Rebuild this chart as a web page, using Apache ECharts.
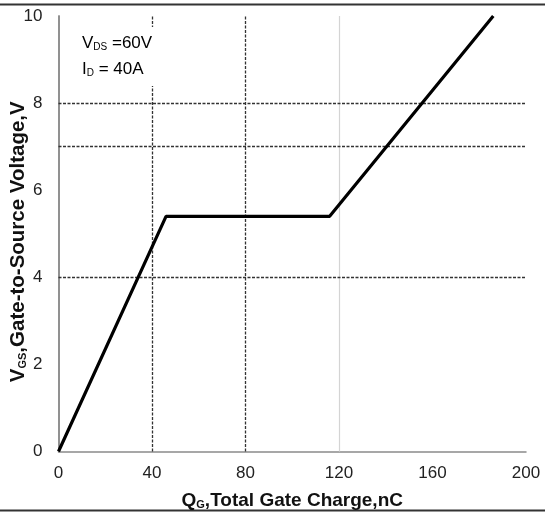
<!DOCTYPE html>
<html>
<head>
<meta charset="utf-8">
<script src="https://cdn.jsdelivr.net/npm/echarts@6/dist/echarts.min.js"></script>
<style>
  html, body { margin: 0; padding: 0; background: #fff; }
  #chart { width: 545px; height: 514px; }
</style>
</head>
<body>
<div id="chart"></div>
<script>
// gate charge curve
const qg = [0, 46, 116, 186];
const vgs = [0, 5.4, 5.4, 10];

// reference lines drawn on the datasheet plot
const darkVLines = [40, 80];
const lightVLines = [120];
const darkHLines = [4, 7, 8];

const xTicks = [0, 40, 80, 120, 160, 200];
const yTicks = [0, 2, 4, 6, 8, 10];

const font = '"Liberation Sans", Arial, sans-serif';
const chart = echarts.init(document.getElementById('chart'));

const dashed = { color: '#333', width: 1.3, type: [3, 1.5] };

function nameRich(size) {
  return {
    b: { fontSize: size, fontWeight: 'bold', color: '#111', fontFamily: font },
    s: { fontSize: 11, fontWeight: 'bold', color: '#111', fontFamily: font, padding: [9, 0, 0, 0] }
  };
}

chart.setOption({
  animation: false,
  backgroundColor: '#fff',
  textStyle: { fontFamily: font },
  grid: { left: 58.5, right: 19, top: 16, bottom: 62.5, containLabel: false, outerBoundsMode: 'none' },
  xAxis: {
    type: 'value',
    min: xTicks[0], max: xTicks[xTicks.length - 1], interval: 40,
    axisLine: { show: true, onZero: false, lineStyle: { color: '#8a8a8a', width: 1.5 } },
    axisTick: { show: false },
    splitLine: { show: false },
    axisLabel: { color: '#222', fontSize: 17, margin: 13, fontFamily: font },
    name: '{b|Q}{s|G}{b|,Total Gate Charge,nC}',
    nameLocation: 'middle',
    nameGap: 39,
    nameMoveOverlap: false,
    nameTextStyle: { rich: nameRich(19) }
  },
  yAxis: [{
    type: 'value',
    min: yTicks[0], max: yTicks[yTicks.length - 1], interval: 2,
    axisLine: { show: true, onZero: false, lineStyle: { color: '#8a8a8a', width: 1.5 } },
    axisTick: { show: false },
    splitLine: { show: false },
    axisLabel: { color: '#222', fontSize: 17, margin: 16, fontFamily: font },
    name: '{b|V}{s|GS}{b|,Gate-to-Source Voltage,V}',
    nameLocation: 'middle',
    nameGap: 30,
    nameMoveOverlap: false,
    nameTextStyle: { rich: nameRich(20.5), padding: [0, 16, 0, 0] }
  }, {
    type: 'value',
    position: 'right',
    min: 0, max: 10,
    axisLine: { show: true, lineStyle: { color: '#8a8a8a', width: 1.5 } },
    axisTick: { show: false },
    axisLabel: { show: false },
    splitLine: { show: false }
  }],
  series: [{
    type: 'line',
    data: qg.map((q, i) => [q, vgs[i]]),
    showSymbol: false,
    z: 5,
    lineStyle: { color: '#000', width: 3.2 },
    markLine: {
      silent: true,
      symbol: ['none', 'none'],
      label: { show: false },
      z: 1,
      data: [
        ...darkVLines.map(v => ({ xAxis: v, lineStyle: dashed })),
        ...lightVLines.map(v => ({ xAxis: v, lineStyle: { color: '#d4d4d4', width: 1.2, type: 'solid' } })),
        ...darkHLines.map(v => ({ yAxis: v, lineStyle: dashed }))
      ]
    }
  }],
  graphic: [
    { type: 'line', shape: { x1: 0, y1: 4.5, x2: 545, y2: 4.5 }, style: { stroke: '#333', lineWidth: 2 } },
    { type: 'line', shape: { x1: 0, y1: 510.5, x2: 545, y2: 510.5 }, style: { stroke: '#333', lineWidth: 2 } },
    {
      type: 'text',
      left: 78,
      top: 27,
      z: 10,
      style: {
        text: '{v|V}{s|DS}{v| =60V}\n{v|I}{s|D}{v| = 40A}',
        backgroundColor: '#fff',
        padding: [3, 4, 4, 4],
        rich: {
          v: { fontSize: 17, color: '#222', fontFamily: font, lineHeight: 26 },
          s: { fontSize: 10, color: '#222', fontFamily: font, lineHeight: 26, padding: [8, 0, 0, 0] }
        }
      }
    }
  ]
});
</script>
</body>
</html>
